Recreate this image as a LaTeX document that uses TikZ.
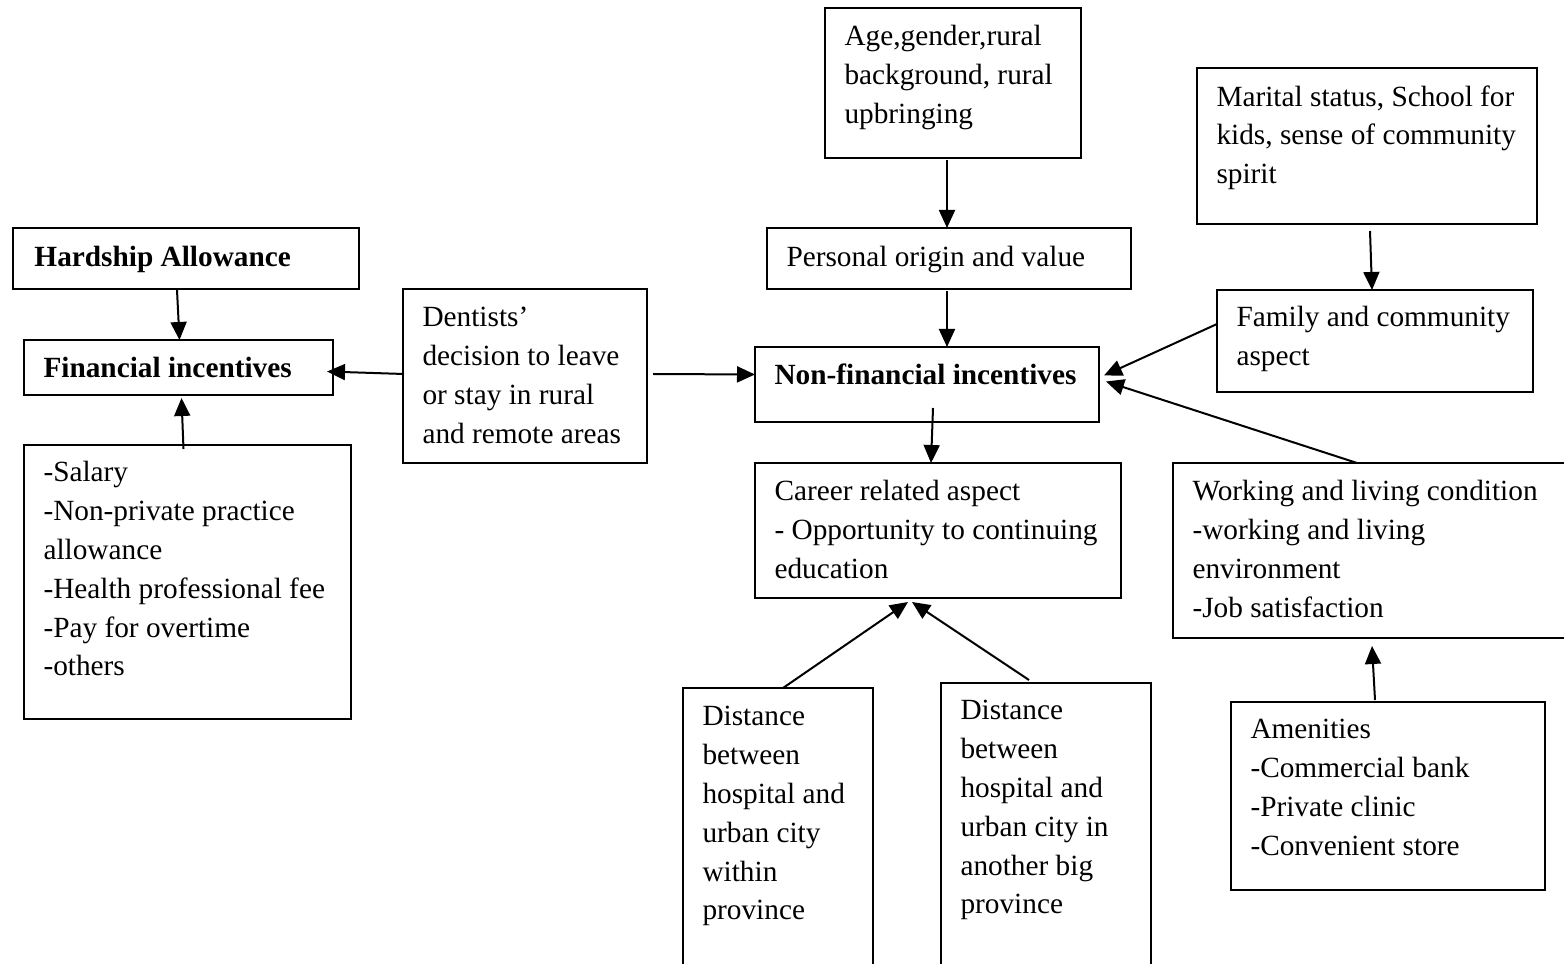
\documentclass[tikz,border=0pt]{standalone}
\usepackage{fontspec}
\setmainfont{Liberation Serif}
\usetikzlibrary{arrows.meta,calc,fit}
\begin{document}
\begin{tikzpicture}[x=0.4pt,y=-0.4pt,
  box/.style={draw, line width=0.55pt, inner sep=0pt, outer sep=0pt},
  txt/.style={anchor=north west, inner sep=0pt, align=left, font=\fontsize{11.72}{15.52}\selectfont, execute at begin node=\strut},
  arr/.style={line width=0.8pt, -{Triangle[length=7.2pt,width=6.4pt]}}]
\useasboundingbox (0,0) rectangle (1564,964);
\clip (0,0) rectangle (1564,964);

% boxes
\node[box, fit={(825,8)(1081,158)}] (age) {};
\node[box, fit={(1197,68)(1537,224)}] (marital) {};
\node[box, fit={(13,228)(359,289)}] (hardship) {};
\node[box, fit={(767,228)(1131,289)}] (personal) {};
\node[box, fit={(24,340)(333,395)}] (financial) {};
\node[box, fit={(403,289)(647,463)}] (dentists) {};
\node[box, fit={(755,347)(1099,422)}] (nonfin) {};
\node[box, fit={(1217,290)(1533,392)}] (family) {};
\node[box, fit={(24,445)(351,719)}] (salary) {};
\node[box, fit={(755,463)(1121,598)}] (career) {};
\node[box, fit={(1173,463)(1580,638)}] (working) {};
\node[box, fit={(683,688)(873,980)}] (dist1) {};
\node[box, fit={(941,683)(1151,980)}] (dist2) {};
\node[box, fit={(1231,702)(1545,890)}] (amen) {};

% texts
\node[txt] (ageT) at ($(age.north west)+(19,17)$) {Age,gender,rural\\background, rural\\upbringing};
\node[txt] (maritalT) at ($(marital.north west)+(19,17)$) {Marital status, School for\\kids, sense of community\\spirit};
\node[txt] (hardshipT) at ($(hardship.north west)+(21,11)$) {\bfseries Hardship Allowance};
\node[txt] (personalT) at ($(personal.north west)+(19,11)$) {Personal origin and value};
\node[txt] (financialT) at ($(financial.north west)+(19,10)$) {\bfseries Financial incentives};
\node[txt] (dentistsT) at ($(dentists.north west)+(19,18)$) {Dentists’\\decision to leave\\or stay in rural\\and remote areas};
\node[txt] (nonfinT) at ($(nonfin.north west)+(19,10)$) {\bfseries Non-financial incentives};
\node[txt] (familyT) at ($(family.north west)+(19,16)$) {Family and community\\aspect};
\node[txt] (salaryT) at ($(salary.north west)+(19,16)$) {-Salary\\-Non-private practice\\allowance\\-Health professional fee\\-Pay for overtime\\-others};
\node[txt] (careerT) at ($(career.north west)+(19,17)$) {Career related aspect\\- Opportunity to continuing\\education};
\node[txt] (workingT) at ($(working.north west)+(19,17)$) {Working and living condition\\-working and living\\environment\\-Job satisfaction};
\node[txt] (dist1T) at ($(dist1.north west)+(19,18)$) {Distance\\between\\hospital and\\urban city\\within\\province};
\node[txt] (dist2T) at ($(dist2.north west)+(19,17)$) {Distance\\between\\hospital and\\urban city in\\another big\\province};
\node[txt] (amenT) at ($(amen.north west)+(19,17)$) {Amenities\\-Commercial bank\\-Private clinic\\-Convenient store};

% arrows
\draw[arr] ($(age.south)+(-6,2)$) -- ($(age.south |- personal.north)+(-6,0)$);
\draw[arr] ($(marital.south)+(3,7)$) -- ($(family.north)+(-3,0)$);
\draw[arr] ($(hardship.south)+(-9,1)$) -- ($(financial.north)+(1,0)$);
\draw[arr] ($(personal.south)+(-2,2)$) -- ($(personal.south |- nonfin.north)+(-2,0)$);
\draw[arr] ($(dentists.west)+(1,-2)$) -- ($(financial.east)+(-6,4)$);
\draw[arr] ($(dentists.east)+(6,-2)$) -- ($(nonfin.west)+(0,-10)$);
\draw[arr] ($(family.west)+(0,-17)$) -- ($(nonfin.east)+(5,-9)$);
\draw[arr] ($(working.north west)+(184,0)$) -- ($(nonfin.east)+(7,-3)$);
\draw[arr] ($(salary.north)+(-4,4)$) -- ($(financial.south)+(3,3)$);
\draw[arr] ($(nonfin.south)+(6,-14)$) -- ($(career.north)+(-7,0)$);
\draw[arr] ($(dist1.north)+(5,0)$) -- ($(career.south)+(-30,4)$);
\draw[arr] ($(dist2.north)+(-17,-3)$) -- ($(career.south)+(-26,4)$);
\draw[arr] ($(amen.north)+(-13,-2)$) -- ($(working.south west)+(199,8)$);
\end{tikzpicture}
\end{document}
